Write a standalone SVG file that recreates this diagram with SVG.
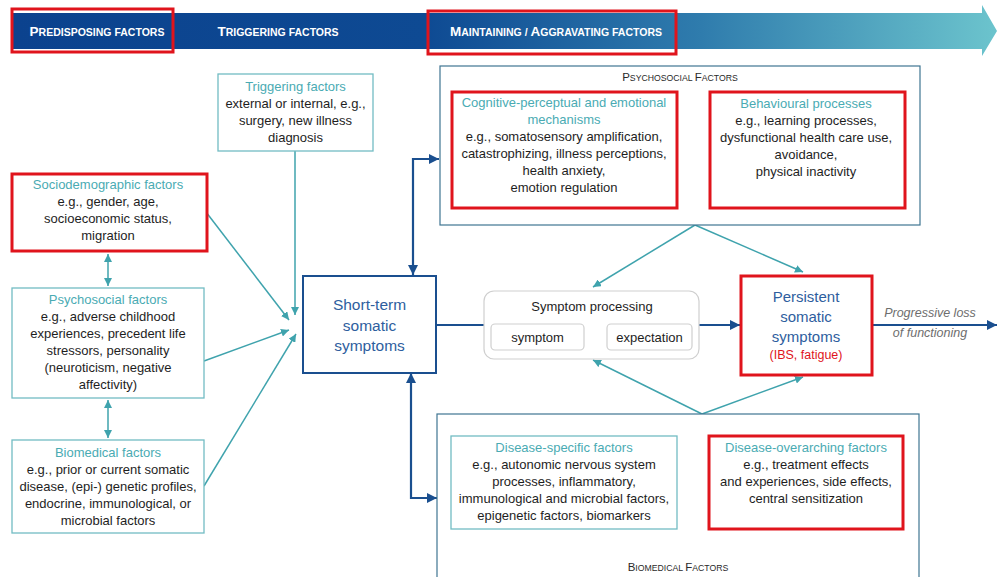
<svg xmlns="http://www.w3.org/2000/svg" width="997" height="577" viewBox="0 0 997 577">
<defs>
<linearGradient id="hdr" x1="12" y1="0" x2="997" y2="0" gradientUnits="userSpaceOnUse">
<stop offset="0" stop-color="#0b428e"/>
<stop offset="0.42" stop-color="#0e4a93"/>
<stop offset="0.7" stop-color="#2f7cad"/>
<stop offset="1" stop-color="#6cc4cd"/>
</linearGradient>
<marker id="at" viewBox="0 0 10 10" refX="10" refY="5" markerWidth="8" markerHeight="8" markerUnits="userSpaceOnUse" orient="auto-start-reverse"><path d="M0,0 L10,5 L0,10 z" fill="#3fa3ad"/></marker>
<marker id="ag" viewBox="0 0 10 10" refX="10" refY="5" markerWidth="7" markerHeight="7" markerUnits="userSpaceOnUse" orient="auto-start-reverse"><path d="M0,0 L10,5 L0,10 z" fill="#a6a6a6"/></marker>
<marker id="ab" viewBox="0 0 10 10" refX="10" refY="5" markerWidth="10" markerHeight="10" markerUnits="userSpaceOnUse" orient="auto-start-reverse"><path d="M0,0 L10,5 L0,10 z" fill="#1a4f8f"/></marker>
</defs>
<style>
text{font-family:"Liberation Sans",Arial,sans-serif;}
.hd{fill:#ffffff;font-weight:bold;}
.red{fill:none;stroke:#e0141c;stroke-width:3;}
.tb{fill:#ffffff;stroke:#72bcc3;stroke-width:1.3;}
.big{fill:#ffffff;stroke:#3f7592;stroke-width:1.2;}
.ti{fill:#4aabb3;font-size:13px;text-anchor:middle;}
.bd{fill:#1e1e1e;font-size:13px;text-anchor:middle;}
.sec{fill:#2a2a2a;text-anchor:middle;}
.ct{fill:none;stroke:#3fa3ad;stroke-width:1.5;}
.cb{fill:none;stroke:#1a4f8f;stroke-width:2.2;}
.cg{fill:none;stroke:#a6a6a6;stroke-width:1.5;}
.bl{fill:#2e5e9e;font-size:15.5px;text-anchor:middle;}
</style>

<g id="header">
<polygon points="12,13 982,13 982,5 997,31 982,56 982,49 12,49" fill="url(#hdr)"/>
<text class="hd" x="97" y="36" text-anchor="middle"><tspan font-size="13.5">P</tspan><tspan font-size="10.5">REDISPOSING FACTORS</tspan></text>
<text class="hd" x="278" y="36" text-anchor="middle"><tspan font-size="13.5">T</tspan><tspan font-size="10.5">RIGGERING FACTORS</tspan></text>
<text class="hd" x="556" y="36" text-anchor="middle"><tspan font-size="13.5">M</tspan><tspan font-size="10.5">AINTAINING / </tspan><tspan font-size="13.5">A</tspan><tspan font-size="10.5">GGRAVATING FACTORS</tspan></text>
<rect class="red" x="12" y="9" width="161" height="43"/>
<rect class="red" x="428" y="11" width="248" height="43"/>
</g>

<g id="connectors">
<path class="ct" d="M108,254 L108,286" marker-start="url(#at)" marker-end="url(#at)"/>
<path class="ct" d="M108,400 L108,438" marker-start="url(#at)" marker-end="url(#at)"/>
<path class="ct" d="M206,212 L289,320" marker-end="url(#at)"/>
<path class="ct" d="M295,151 L295,315" marker-end="url(#at)"/>
<path class="ct" d="M204,361 L289,330" marker-end="url(#at)"/>
<path class="ct" d="M204,486 L296,334" marker-end="url(#at)"/>
<path class="ct" d="M678,149 L708,149" marker-start="url(#at)" marker-end="url(#at)"/>
<path class="ct" d="M678,483 L708,483" marker-start="url(#at)" marker-end="url(#at)"/>
<path class="ct" d="M695,225 L593,287" marker-end="url(#at)"/>
<path class="ct" d="M695,225 L803,272" marker-end="url(#at)"/>
<path class="ct" d="M702,414 L593,360" marker-end="url(#at)"/>
<path class="ct" d="M702,414 L803,377" marker-end="url(#at)"/>
<path class="cg" d="M585,337 L605,337" marker-start="url(#ag)" marker-end="url(#ag)"/>
<path class="cb" d="M413,275 L413,159 L439,159" marker-start="url(#ab)" marker-end="url(#ab)"/>
<path class="cb" d="M411,373 L411,498 L437,498" marker-start="url(#ab)" marker-end="url(#ab)"/>
<path class="cb" d="M436,325 L484,325"/>
<path class="cb" d="M699,325 L740,325" marker-end="url(#ab)"/>
<path class="cb" d="M873,325 L997,325" marker-end="url(#ab)"/>
</g>

<g id="triggering">
<rect class="tb" x="218" y="74" width="155" height="77"/>
<text class="ti" x="295.5" y="91">Triggering factors</text>
<text class="bd" x="295.5" y="108">external or internal, e.g.,</text>
<text class="bd" x="295.5" y="125">surgery, new illness</text>
<text class="bd" x="295.5" y="142">diagnosis</text>
</g>

<g id="sociodemographic">
<rect x="12" y="174" width="195" height="77" fill="#ffffff"/>
<rect class="red" x="12" y="174" width="195" height="77"/>
<text class="ti" x="108" y="189">Sociodemographic factors</text>
<text class="bd" x="108" y="206">e.g., gender, age,</text>
<text class="bd" x="108" y="223">socioeconomic status,</text>
<text class="bd" x="108" y="240">migration</text>
</g>

<g id="psychosocial-left">
<rect class="tb" x="12" y="288" width="192" height="110"/>
<text class="ti" x="108" y="304">Psychosocial factors</text>
<text class="bd" x="108" y="321">e.g., adverse childhood</text>
<text class="bd" x="108" y="338">experiences, precedent life</text>
<text class="bd" x="108" y="355">stressors, personality</text>
<text class="bd" x="108" y="372">(neuroticism, negative</text>
<text class="bd" x="108" y="389">affectivity)</text>
</g>

<g id="biomedical-left">
<rect class="tb" x="12" y="440" width="192" height="93"/>
<text class="ti" x="108" y="457">Biomedical factors</text>
<text class="bd" x="108" y="474">e.g., prior or current somatic</text>
<text class="bd" x="108" y="491">disease, (epi-) genetic profiles,</text>
<text class="bd" x="108" y="508">endocrine, immunological, or</text>
<text class="bd" x="108" y="525">microbial factors</text>
</g>

<g id="short-term">
<rect x="303" y="276" width="133" height="97" fill="#ffffff" stroke="#1a4f8f" stroke-width="2"/>
<text class="bl" x="369.5" y="310">Short-term</text>
<text class="bl" x="369.5" y="331">somatic</text>
<text class="bl" x="369.5" y="351">symptoms</text>
</g>

<g id="psychosocial-factors">
<rect class="big" x="440" y="66" width="480" height="159"/>
<text class="sec" x="680" y="81"><tspan font-size="11.5">P</tspan><tspan font-size="8.7">SYCHOSOCIAL </tspan><tspan font-size="11.5">F</tspan><tspan font-size="8.7">ACTORS</tspan></text>
</g>

<g id="cognitive">
<rect x="452" y="92" width="225" height="116" fill="#ffffff"/>
<rect class="red" x="452" y="92" width="225" height="116"/>
<text class="ti" x="564" y="107">Cognitive-perceptual and emotional</text>
<text class="ti" x="564" y="124">mechanisms</text>
<text class="bd" x="564" y="141">e.g., somatosensory amplification,</text>
<text class="bd" x="564" y="158">catastrophizing, illness perceptions,</text>
<text class="bd" x="564" y="175">health anxiety,</text>
<text class="bd" x="564" y="192">emotion regulation</text>
</g>

<g id="behavioural">
<rect x="710" y="92" width="195" height="116" fill="#ffffff"/>
<rect class="red" x="710" y="92" width="195" height="116"/>
<text class="ti" x="806" y="108">Behavioural processes</text>
<text class="bd" x="806" y="125">e.g., learning processes,</text>
<text class="bd" x="806" y="142">dysfunctional health care use,</text>
<text class="bd" x="806" y="159">avoidance,</text>
<text class="bd" x="806" y="176">physical inactivity</text>
</g>

<g id="symptom-processing">
<rect x="484" y="291" width="215" height="68" rx="10" fill="#ffffff" stroke="#cfcfcf" stroke-width="1.2"/>
<text x="592" y="311" font-size="13" fill="#1e1e1e" text-anchor="middle">Symptom processing</text>
<rect x="491" y="324" width="93" height="26" rx="4" fill="#ffffff" stroke="#cfcfcf" stroke-width="1.2"/>
<text x="537.5" y="342" font-size="13" fill="#1e1e1e" text-anchor="middle">symptom</text>
<rect x="607" y="324" width="85" height="26" rx="4" fill="#ffffff" stroke="#cfcfcf" stroke-width="1.2"/>
<text x="649.5" y="342" font-size="13" fill="#1e1e1e" text-anchor="middle">expectation</text>
</g>

<g id="persistent">
<rect x="741" y="276" width="131" height="99" fill="#ffffff"/>
<rect class="red" x="741" y="276" width="131" height="99"/>
<text x="806" y="302" font-size="15" fill="#2e5e9e" text-anchor="middle">Persistent</text>
<text x="806" y="322" font-size="15" fill="#2e5e9e" text-anchor="middle">somatic</text>
<text x="806" y="342" font-size="15" fill="#2e5e9e" text-anchor="middle">symptoms</text>
<text x="806" y="359" font-size="12.5" fill="#e0141c" text-anchor="middle">(IBS, fatigue)</text>
</g>

<g id="progressive-label">
<text x="930" y="317" font-size="12.5" font-style="italic" fill="#6e6e6e" text-anchor="middle">Progressive loss</text>
<text x="930" y="337" font-size="12.5" font-style="italic" fill="#6e6e6e" text-anchor="middle">of functioning</text>
</g>

<g id="biomedical-factors">
<rect class="big" x="437" y="414" width="482" height="170"/>
<text class="sec" x="678" y="571"><tspan font-size="11.5">B</tspan><tspan font-size="8.7">IOMEDICAL </tspan><tspan font-size="11.5">F</tspan><tspan font-size="8.7">ACTORS</tspan></text>
</g>

<g id="disease-specific">
<rect class="tb" x="451" y="436" width="226" height="93"/>
<text class="ti" x="564" y="452">Disease-specific factors</text>
<text class="bd" x="564" y="469">e.g., autonomic nervous system</text>
<text class="bd" x="564" y="486">processes, inflammatory,</text>
<text class="bd" x="564" y="503">immunological and microbial factors,</text>
<text class="bd" x="564" y="520">epigenetic factors, biomarkers</text>
</g>

<g id="disease-overarching">
<rect x="709" y="436" width="194" height="93" fill="#ffffff"/>
<rect class="red" x="709" y="436" width="194" height="93"/>
<text class="ti" x="806" y="452">Disease-overarching factors</text>
<text class="bd" x="806" y="469">e.g., treatment effects</text>
<text class="bd" x="806" y="486">and experiences, side effects,</text>
<text class="bd" x="806" y="503">central sensitization</text>
</g>
</svg>
